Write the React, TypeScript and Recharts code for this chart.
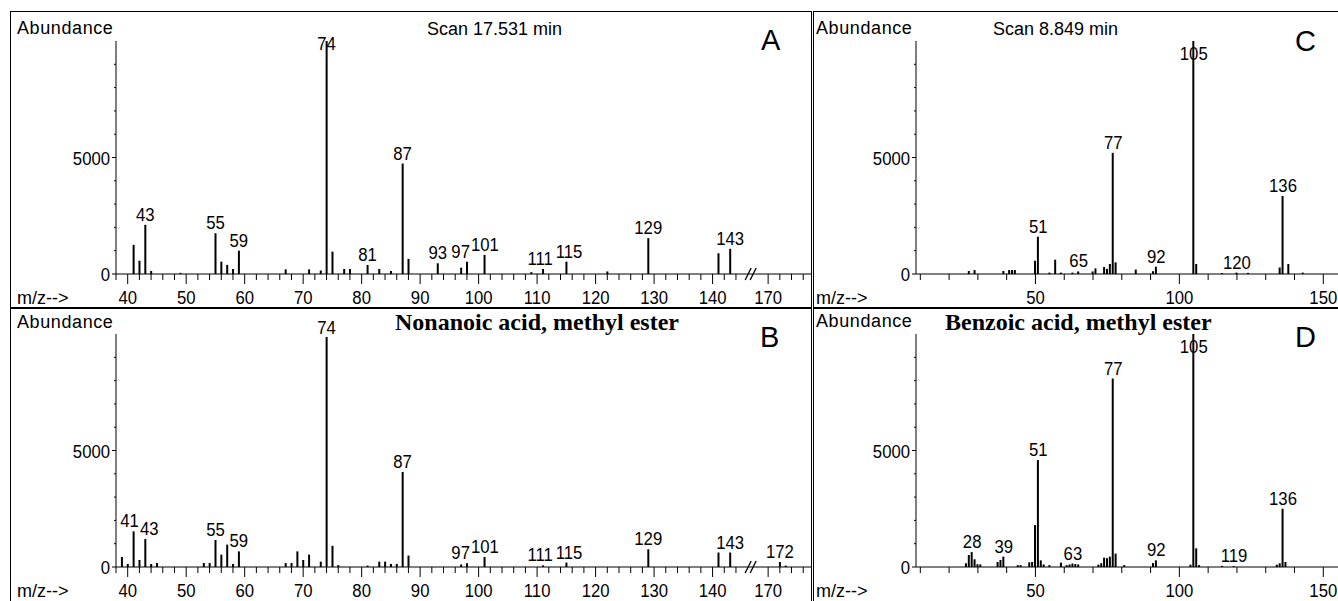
import React from 'react';
import { BarChart, Bar, XAxis, YAxis, ReferenceDot } from 'recharts';

// --- spectra (m/z, abundance) ---

// A: sample scan at 17.531 min
const mzA = [41, 42, 43, 44, 49, 55, 56, 57, 58, 59, 67, 71, 73, 74, 75, 77, 78, 81, 83, 85, 87, 88, 93, 97, 98, 101, 109, 111, 115, 122, 129, 141, 143];
const abA = [1250, 570, 2110, 130, 50, 1750, 530, 390, 215, 1000, 200, 200, 150, 10000, 960, 215, 215, 390, 215, 130, 4740, 650, 460, 270, 530, 820, 80, 215, 530, 110, 1540, 890, 1080];
const labelsA = [43, 55, 59, 74, 81, 87, 93, 97, 101, 111, 115, 129, 143];

// B: library spectrum, nonanoic acid methyl ester
const mzB = [39, 40, 41, 42, 43, 44, 45, 53, 54, 55, 56, 57, 58, 59, 67, 68, 69, 70, 71, 73, 74, 75, 76, 81, 83, 84, 85, 86, 87, 88, 97, 98, 101, 111, 115, 129, 141, 143, 172, 173];
const abB = [430, 130, 1530, 300, 1200, 130, 170, 170, 170, 1160, 530, 960, 130, 670, 170, 170, 670, 300, 530, 230, 9870, 910, 80, 60, 230, 230, 130, 130, 4080, 490, 110, 160, 430, 70, 190, 760, 620, 620, 215, 60];
const labelsB = [41, 43, 55, 59, 74, 87, 97, 101, 111, 115, 129, 143, 172];

// C: sample scan at 8.849 min
const mzC = [27, 29, 39, 41, 42, 43, 50, 51, 55, 57, 59, 63, 65, 70, 71, 74, 75, 76, 77, 78, 85, 91, 92, 105, 106, 115, 120, 124, 135, 136, 138, 143];
const abC = [130, 170, 130, 170, 170, 170, 570, 1600, 60, 615, 60, 60, 110, 110, 240, 300, 220, 430, 5200, 500, 190, 120, 315, 10000, 430, 40, 60, 50, 280, 3350, 430, 60];
const labelsC = [51, 65, 77, 92, 105, 120, 136];

// D: library spectrum, benzoic acid methyl ester
const mzD = [26, 27, 28, 29, 30, 31, 37, 38, 39, 44, 45, 48, 49, 50, 51, 52, 53, 55, 59, 61, 62, 63, 64, 65, 72, 73, 74, 75, 76, 77, 78, 81, 91, 92, 104, 105, 106, 107, 115, 119, 134, 135, 136, 137];
const abD = [160, 515, 640, 330, 120, 110, 215, 300, 445, 80, 80, 200, 215, 1800, 4590, 285, 110, 80, 190, 80, 110, 150, 130, 110, 100, 160, 400, 380, 445, 8090, 575, 80, 170, 285, 100, 10000, 800, 80, 50, 40, 100, 160, 2500, 215];
const labelsD = [28, 39, 51, 63, 77, 92, 105, 119, 136];

// axis ticks
const majorAB = [40, 50, 60, 70, 80, 90, 100, 110, 120, 130, 140, 170];
const minorAB = [38, 42, 44, 46, 48, 52, 54, 56, 58, 62, 64, 66, 68, 72, 74, 76, 78, 82, 84, 86, 88, 92, 94, 96, 98,
  102, 104, 106, 108, 112, 114, 116, 118, 122, 124, 126, 128, 132, 134, 136, 138, 142, 144, 172, 174, 176];
const majorCD = [50, 100, 150];
const minorCD = [10, 20, 30, 40, 60, 70, 80, 90, 110, 120, 130, 140];
const yMajor = [0, 5000];
const yMinor = [1000, 2000, 3000, 4000, 6000, 7000, 8000, 9000];

// broken m/z axis on A and B: the stretch between ~146 and ~167 is cut out
const BREAK_AT = 146.6;
const BREAK_SHIFT = 20.5;

const SANS = "'Liberation Sans', Arial, sans-serif";
const SERIF = "'Liberation Serif', 'Times New Roman', serif";
const NUM_SIZE = 19;
const NUM_SQUEEZE = 0.88; // the instrument font is narrower than Arial
const XAXIS_H = 34;

// number text in the narrow instrument style
const Num = ({ x, y, anchor, children }: { x: number; y: number; anchor: 'start' | 'middle' | 'end'; children: React.ReactNode }) => (
  <text
    transform={`translate(${x},${y}) scale(${NUM_SQUEEZE},1)`}
    textAnchor={anchor}
    fontFamily={SANS}
    fontSize={NUM_SIZE}
    fill="#000"
  >
    {children}
  </text>
);

interface PanelProps {
  mz: number[];
  ab: number[];
  labels: number[];
  majors: number[];
  minors: number[];
  domain: [number, number];
  broken: boolean;
  left: number;
  top: number;
  width: number;
  height: number;
  margin: { top: number; right: number; bottom: number; left: number };
  yWidth: number;
  labelFloor: number;
}

const Spectrum: React.FC<PanelProps> = ({
  mz, ab, labels, majors, minors, domain, broken, left, top, width, height, margin, yWidth, labelFloor,
}) => {
  const toT = (m: number) => (broken && m > BREAK_AT + 10 ? m - BREAK_SHIFT : m);
  const fromT = (t: number) => (broken && t > BREAK_AT ? t + BREAK_SHIFT : t);

  const data = mz.map((m, i) => ({ t: toT(m), ab: ab[i] }));
  const ticks = [...majors, ...minors].sort((a, b) => a - b).map(toT);

  // a peak label sits above the tallest line within one m/z unit
  const peakLabels = labels.map((m) => {
    let h = 0;
    mz.forEach((v, i) => {
      if (Math.abs(v - m) <= 1) h = Math.max(h, ab[i]);
    });
    return { t: toT(m), y: h, text: String(m), dx: 0 };
  });

  // neighbouring labels that collide are pushed apart sideways
  const plotW = width - yWidth - margin.left - margin.right;
  const plotH = height - margin.top - margin.bottom - XAXIS_H;
  const pxX = plotW / (domain[1] - domain[0]);
  const digitW = 0.556 * NUM_SIZE * NUM_SQUEEZE;
  const base = (h: number) => Math.max(margin.top + plotH - (h / 10000) * plotH - 4, margin.top + labelFloor);
  for (let i = 1; i < peakLabels.length; i++) {
    const a = peakLabels[i - 1];
    const b = peakLabels[i];
    if (Math.abs(base(a.y) - base(b.y)) >= 13) continue;
    const gap = (b.t - a.t) * pxX + b.dx - a.dx;
    const need = (a.text.length + b.text.length) * digitW / 2 + 1;
    if (gap < need) {
      const push = (need - gap) / 2;
      a.dx -= push;
      b.dx += push;
    }
  }

  const xTick = (p: any) => {
    const { x, y, payload } = p;
    const m = Math.round(fromT(payload.value));
    const major = majors.includes(m);
    return (
      <g>
        <line x1={x} x2={x} y1={y} y2={y + (major ? 10 : 6)} stroke="#000" strokeWidth={1} />
        {major && <Num x={x} y={y + 30} anchor="middle">{m}</Num>}
      </g>
    );
  };

  const yTick = (p: any) => {
    const { x, y, payload } = p;
    const major = yMajor.includes(payload.value);
    return (
      <g>
        <line x1={x - (major ? 4 : 2)} x2={x} y1={y} y2={y} stroke="#000" strokeWidth={1} />
        {major && <Num x={x - 6} y={y + 7} anchor="end">{payload.value}</Num>}
      </g>
    );
  };

  return (
    <div style={{ position: 'absolute', left, top }}>
      <BarChart width={width} height={height} data={data} margin={margin}>
        <XAxis
          dataKey="t"
          type="number"
          domain={domain}
          allowDataOverflow
          ticks={ticks}
          interval={0}
          tickSize={0}
          tickMargin={0}
          tickLine={false}
          tick={xTick}
          height={XAXIS_H}
          axisLine={{ stroke: '#000', strokeWidth: 1 }}
        />
        <YAxis
          type="number"
          domain={[0, 10000]}
          allowDataOverflow
          ticks={[...yMajor, ...yMinor].sort((a, b) => a - b)}
          interval={0}
          tickSize={0}
          tickMargin={0}
          tickLine={false}
          tick={yTick}
          width={yWidth}
          axisLine={{ stroke: '#000', strokeWidth: 1 }}
        />
        <Bar dataKey="ab" fill="#000" barSize={2} isAnimationActive={false} />
        {peakLabels.map((l) => (
          <ReferenceDot
            key={l.text}
            x={l.t}
            y={l.y}
            ifOverflow="visible"
            shape={(s: any) => (
              <Num x={s.cx + l.dx} y={Math.max(s.cy - 4, margin.top + labelFloor)} anchor="middle">
                {l.text}
              </Num>
            )}
          />
        ))}
        {broken && (
          <ReferenceDot
            x={BREAK_AT}
            y={0}
            ifOverflow="visible"
            shape={(s: any) => (
              <g stroke="#000" strokeWidth={1.3}>
                <line x1={s.cx - 6} y1={s.cy + 6} x2={s.cx} y2={s.cy - 6} />
                <line x1={s.cx - 1} y1={s.cy + 6} x2={s.cx + 5} y2={s.cy - 6} />
              </g>
            )}
          />
        )}
      </BarChart>
    </div>
  );
};

const textStyle = { fontFamily: SANS, fontSize: 18, fill: '#000' } as const;

export default function App() {
  return (
    <div style={{ position: 'absolute', left: 0, top: 0, width: 1338, height: 601, background: '#fff', overflow: 'hidden' }}>
      <Spectrum mz={mzA} ab={abA} labels={labelsA} majors={majorAB} minors={minorAB} domain={[38, 157]} broken
        left={10} top={12} width={802} height={296} margin={{ top: 29, right: 0, bottom: 0, left: 0 }} yWidth={106} labelFloor={9} />
      <Spectrum mz={mzB} ab={abB} labels={labelsB} majors={majorAB} minors={minorAB} domain={[38, 157]} broken
        left={10} top={308} width={802} height={293} margin={{ top: 26, right: 0, bottom: 0, left: 0 }} yWidth={106} labelFloor={0} />
      <Spectrum mz={mzC} ab={abC} labels={labelsC} majors={majorCD} minors={minorCD} domain={[8.5, 156.5]} broken={false}
        left={813} top={12} width={540} height={296} margin={{ top: 29, right: 11, bottom: 0, left: 0 }} yWidth={103} labelFloor={19} />
      <Spectrum mz={mzD} ab={abD} labels={labelsD} majors={majorCD} minors={minorCD} domain={[8.5, 156.5]} broken={false}
        left={813} top={308} width={540} height={293} margin={{ top: 26, right: 11, bottom: 0, left: 0 }} yWidth={103} labelFloor={19} />

      <svg width={1338} height={601} style={{ position: 'absolute', left: 0, top: 0, pointerEvents: 'none' }}>
        <g fill="none" stroke="#000" strokeWidth={1}>
          <rect x={10.5} y={11.5} width={801} height={296} />
          <rect x={10.5} y={308.5} width={801} height={300} />
          <rect x={813.5} y={11.5} width={600} height={296} />
          <rect x={813.5} y={308.5} width={600} height={300} />
        </g>

        <text x={17} y={33.5} {...textStyle} letterSpacing={0.6}>Abundance</text>
        <text x={427} y={34.5} {...textStyle}>Scan 17.531 min</text>
        <text x={761} y={50} {...textStyle} fontSize={29}>A</text>
        <text x={17} y={304} {...textStyle}>m/z--&gt;</text>

        <text x={17} y={327.5} {...textStyle} letterSpacing={0.6}>Abundance</text>
        <text x={395} y={330} fontFamily={SERIF} fontWeight="bold" fontSize={24} fill="#000">Nonanoic acid, methyl ester</text>
        <text x={760} y={346.7} {...textStyle} fontSize={29}>B</text>
        <text x={17} y={597} {...textStyle}>m/z--&gt;</text>

        <text x={816} y={33.5} {...textStyle} letterSpacing={0.6}>Abundance</text>
        <text x={993} y={34.5} {...textStyle}>Scan 8.849 min</text>
        <text x={1295} y={50.7} {...textStyle} fontSize={29}>C</text>
        <text x={816} y={304} {...textStyle}>m/z--&gt;</text>

        <text x={816} y={327} {...textStyle} letterSpacing={0.6}>Abundance</text>
        <text x={945} y={330} fontFamily={SERIF} fontWeight="bold" fontSize={24} fill="#000">Benzoic acid, methyl ester</text>
        <text x={1295} y={346.7} {...textStyle} fontSize={29}>D</text>
        <text x={816} y={597} {...textStyle}>m/z--&gt;</text>
      </svg>
    </div>
  );
}
